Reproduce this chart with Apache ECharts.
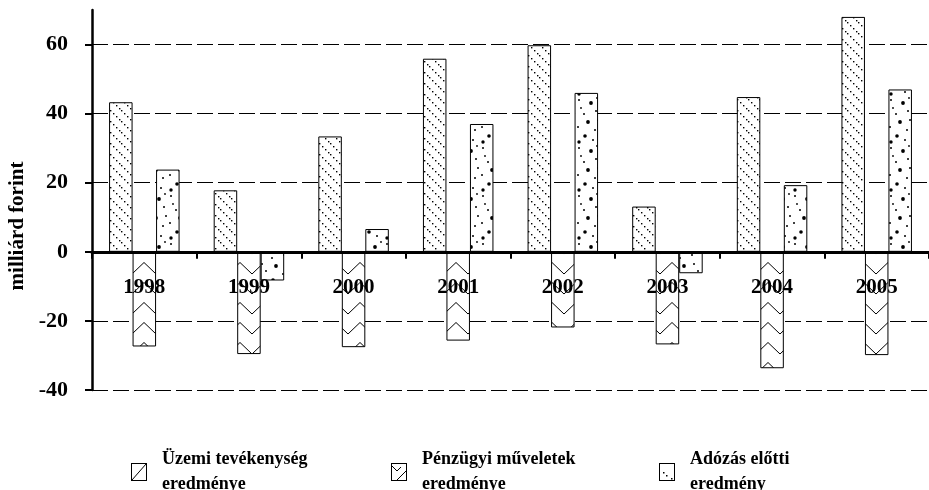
<!DOCTYPE html>
<html><head><meta charset="utf-8">
<script src="https://cdn.jsdelivr.net/npm/echarts@6/dist/echarts.min.js"></script>
<style>html,body{margin:0;padding:0;background:#fff}#c{width:929px;height:490px}</style>
</head><body><div id="c"></div>
<script>
const categories = ['1998','1999','2000','2001','2002','2003','2004','2005'];
const uzemi    = [43.3, 17.8, 33.4, 55.9, 59.8, 13.1, 44.8, 68.0];
const penzugyi = [-27.4, -29.6, -27.6, -25.7, -21.9, -26.8, -33.7, -29.9];
const adozas   = [23.8, -8.3, 6.6, 37.0, 46.0, -6.2, 19.3, 47.0];
const seriesNames = ['Üzemi tevékenység eredménye', 'Pénzügyi műveletek eredménye', 'Adózás előtti eredmény'];
const yTicks = [-40, -20, 0, 20, 40, 60];
const yMin = -40, yMax = 70;
const yAxisName = 'milliárd forint';

const FONT = '"Liberation Serif", "Times New Roman", serif';

function mk(w, h, draw) {
  const c = document.createElement('canvas');
  c.width = w; c.height = h;
  const g = c.getContext('2d');
  g.fillStyle = '#fff'; g.fillRect(0, 0, w, h);
  g.fillStyle = '#000'; g.strokeStyle = '#000'; g.lineWidth = 1;
  draw(g, w, h);
  return c;
}
// dotted diagonal "\" lines
const pat1 = mk(11, 11, g => { [[0,0],[3,3],[6,6],[9,9]].forEach(p => g.fillRect(p[0], p[1], 1.4, 1.4)); });
// chevrons
const pat2 = mk(24, 20, g => { g.beginPath(); g.moveTo(0, 2.5); g.lineTo(12, 14); g.lineTo(24, 2.5); g.stroke(); });
// scattered dots
const dots = [[3,4,1],[15,7,1.9],[20,15,1],[8,18,1],[12,26,1.9],[2,31,1],[19,34,1],[9,40,1.8],[22,24,1],[5,12,0.9],[17,44,1],[3,46,1.7],[21,2,0.9]];
const pat3 = mk(24, 48, g => { dots.forEach(d => { g.beginPath(); g.arc(d[0], d[1], d[2], 0, Math.PI*2); g.fill(); }); });

function icon(kind) {
  const c = mk(16, 18, (g) => {
    g.strokeRect(0.5, 0.5, 15, 17);
    g.beginPath();
    if (kind === 0) { g.moveTo(1, 17); g.lineTo(15, 1); }
    if (kind === 1) { g.moveTo(1, 3); g.lineTo(6, 8); g.lineTo(10, 4); g.moveTo(6, 17); g.lineTo(15, 8); }
    g.stroke();
    if (kind === 2) { g.fillRect(4, 9, 1.5, 1.5); g.fillRect(7, 12, 1.5, 1.5); g.fillRect(12, 15, 1.5, 1.5); }
  });
  return 'image://' + c.toDataURL();
}

const pats = [pat1, pat2, pat3];
const datas = [uzemi, penzugyi, adozas];
const series = seriesNames.map((n, i) => ({
  name: n, type: 'bar', data: datas[i], barWidth: 23.5, barGap: '0%',
  itemStyle: { color: { image: pats[i], repeat: 'repeat' }, borderColor: '#000', borderWidth: 1 },
  emphasis: { disabled: true }
}));

const legendLefts = [131, 391, 659];
const legends = seriesNames.map((n, i) => ({
  data: [{ name: n, icon: icon(i) }],
  left: legendLefts[i], top: 447, padding: 0,
  itemWidth: 16, itemHeight: 18, selectedMode: false,
  formatter: s => s.replace(/ (eredmény\w*)$/, '\n$1'),
  textStyle: { fontFamily: FONT, fontWeight: 'bold', fontSize: 18, lineHeight: 25, color: '#000', padding: [0, 0, 0, 10] }
}));

const chart = echarts.init(document.getElementById('c'), null, { renderer: 'canvas' });
chart.setOption({
  animation: false,
  backgroundColor: '#fff',
  grid: { left: 92, right: 0, top: 10, bottom: 100, containLabel: false },
  legend: legends,
  xAxis: {
    type: 'category', data: categories, z: 10,
    axisLine: { onZero: true, lineStyle: { color: '#000', width: 3 } },
    axisTick: { show: true, length: 7, lineStyle: { color: '#000', width: 2 } },
    axisLabel: { margin: -113, fontFamily: FONT, fontWeight: 'bold', fontSize: 21, color: '#000' },
    splitLine: { show: false }
  },
  yAxis: {
    type: 'value', min: yMin, max: yMax,
    axisLine: { show: true, onZero: false, lineStyle: { color: '#000', width: 2.5 } },
    axisTick: { show: true, length: 7, customValues: yTicks, lineStyle: { color: '#000', width: 2 } },
    axisLabel: { customValues: yTicks, margin: 24, fontFamily: FONT, fontWeight: 'bold', fontSize: 22, color: '#000' },
    splitLine: { show: true, lineStyle: { color: '#000', width: 1, type: [16, 5] } }
  },
  graphic: [{
    type: 'text', x: 18, y: 226, rotation: Math.PI / 2,
    style: { text: yAxisName, fontFamily: FONT, fontWeight: 'bold', fontSize: 21, fill: '#000', align: 'center', verticalAlign: 'middle' }
  }],
  series: series
});
</script>
</body></html>
